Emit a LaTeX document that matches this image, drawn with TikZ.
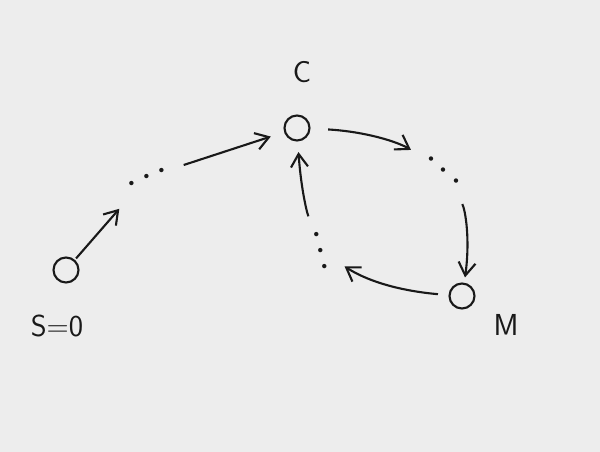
\documentclass[tikz,border=0pt]{standalone}
\usepackage{tikz}
\usetikzlibrary{arrows.meta,backgrounds}

\begin{document}
\begin{tikzpicture}[x=0.02cm, y=-0.02cm, >={Straight Barb[length=2.6mm,width=3.4mm]}]
	\tikzset{StateStyle/.style = {
			shape=circle,
			draw=black!90,
			line width=1.2pt,
			minimum size=0.5cm,
			inner sep=0pt
	}}
	\tikzset{DotsStyle/.style = {
			inner sep=0pt,
			font=\LARGE\bfseries,
			text=black!90
	}}
	\tikzset{LabelStyle/.style = {
			font=\sffamily\LARGE,
			text=black!90
	}}
	\useasboundingbox[fill=black!7] (0,0) rectangle (600,452);
	\node[StateStyle] (s) at (66,270) {};
	\node[StateStyle] (c) at (297,128) {};
	\node[StateStyle] (m) at (462,296) {};
	\node[LabelStyle] (ls) at (57,326) {S=0};
	\node[LabelStyle] (lc) at (302,72) {C};
	\node[LabelStyle] (lm) at (506,325) {M};
	\node[DotsStyle, rotate=25] (d1) at (147,177) {.\kern4pt.\kern4pt.};
	\node[DotsStyle, rotate=-42] (d2) at (444,170) {.\kern4pt.\kern4pt.};
	\node[DotsStyle, rotate=-76] (d3) at (321,251) {.\kern4pt.\kern4pt.};
	
	\begin{scope}[line width=1.2pt, draw=black!90]
	\path [->] (s) edge[shorten <=1pt, shorten >=24pt] (d1.center);
	\path [->] (d1.center) edge[shorten <=22pt, shorten >=8pt] (c);
	\path [->] (c) edge[bend left=14, shorten <=10pt, shorten >=22pt] (d2.center);
	\path [->] (d2.center) edge[bend left=18, shorten <=22pt, shorten >=3pt] (m);
	\path [->] (m) edge[bend left=14, shorten <=6pt, shorten >=16pt] (d3.center);
	\path [->] (d3.center) edge[bend left=8, shorten <=21pt, shorten >=6pt] (c);
	\end{scope}
\end{tikzpicture}
\end{document}
